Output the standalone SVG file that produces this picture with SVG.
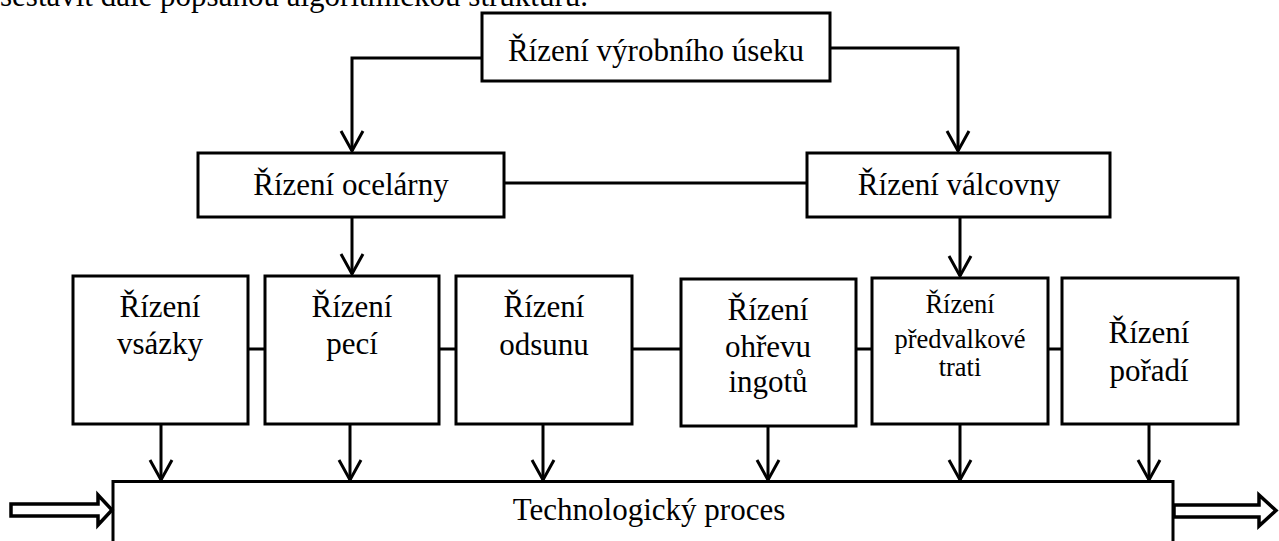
<svg xmlns="http://www.w3.org/2000/svg" width="1279" height="541" viewBox="0 0 1279 541">
  <style>
    .box { fill: #ffffff; stroke: #000000; stroke-width: 3; }
    .line { fill: none; stroke: #000000; stroke-width: 3; }
    .arr { fill: none; stroke: #000000; stroke-width: 3; marker-end: url(#ah); }
    .f { font-family: "Liberation Serif", "Times New Roman", Times, Tinos, "Noto Serif", "DejaVu Serif", FreeSerif, serif; fill: #000000; }
    .t { font-size: 31px; text-anchor: middle; }
    .ts { font-size: 26.5px; text-anchor: middle; }
    .top { font-size: 31px; }
    .dbl { fill: #ffffff; stroke: #000000; stroke-width: 3.5; stroke-linejoin: miter; }
  </style>
  <defs>
    <marker id="ah" markerUnits="userSpaceOnUse" viewBox="-24 -14 26 28" refX="0" refY="0" markerWidth="26" markerHeight="28" orient="auto" overflow="visible">
      <path d="M-20,-11 L0,0 L-20,11" fill="none" stroke="#000000" stroke-width="3"/>
    </marker>
  </defs>
  <rect width="1279" height="541" fill="#ffffff"/>

  <text class="f top" x="0" y="6">sestavit dále popsanou algoritmickou strukturu.</text>

  <g id="connectors">
    <path class="arr" d="M482,58 H352 V151"/>
    <path class="arr" d="M830,48 H958 V151"/>
    <path class="line" d="M504,183 H807"/>
    <path class="arr" d="M352,217 V274"/>
    <path class="arr" d="M960,217 V276"/>
    <path class="line" d="M248,349 H265 M439,349 H456 M632,349 H681 M856,349 H872 M1048,349 H1062"/>
    <path class="arr" d="M161,424 V480"/>
    <path class="arr" d="M350,424 V480"/>
    <path class="arr" d="M543,424 V480"/>
    <path class="arr" d="M768,426 V480"/>
    <path class="arr" d="M960,424 V480"/>
    <path class="arr" d="M1149,424 V480"/>
    <polygon class="dbl" points="11,504 98,504 98,495 112,510 98,525 98,516 11,516"/>
    <polygon class="dbl" points="1174,505 1259,505 1259,495 1276,510.5 1259,526 1259,517 1174,517"/>
  </g>

  <g id="n-vyrobni-usek">
    <rect class="box" x="482" y="13" width="348" height="68"/>
    <text class="f t" x="656" y="61">Řízení výrobního úseku</text>
  </g>
  <g id="n-ocelarna">
    <rect class="box" x="198" y="153" width="306" height="64"/>
    <text class="f t" x="351" y="195">Řízení ocelárny</text>
  </g>
  <g id="n-valcovna">
    <rect class="box" x="807" y="153" width="303" height="64"/>
    <text class="f t" x="959" y="195">Řízení válcovny</text>
  </g>
  <g id="n-vsazka">
    <rect class="box" x="73" y="276" width="175" height="148"/>
    <text class="f t" x="160" y="317">Řízení</text>
    <text class="f t" x="160" y="354">vsázky</text>
  </g>
  <g id="n-peci">
    <rect class="box" x="265" y="276" width="174" height="148"/>
    <text class="f t" x="352" y="317">Řízení</text>
    <text class="f t" x="352" y="354">pecí</text>
  </g>
  <g id="n-odsun">
    <rect class="box" x="456" y="276" width="176" height="148"/>
    <text class="f t" x="544" y="317">Řízení</text>
    <text class="f t" x="544" y="355">odsunu</text>
  </g>
  <g id="n-ohrev">
    <rect class="box" x="681" y="279" width="175" height="147"/>
    <text class="f t" x="768" y="320">Řízení</text>
    <text class="f t" x="768" y="357">ohřevu</text>
    <text class="f t" x="768" y="392">ingotů</text>
  </g>
  <g id="n-predvalkova">
    <rect class="box" x="872" y="278" width="176" height="146"/>
    <text class="f ts" x="960" y="313">Řízení</text>
    <text class="f ts" x="960" y="348">předvalkové</text>
    <text class="f ts" x="960" y="376">trati</text>
  </g>
  <g id="n-poradi">
    <rect class="box" x="1062" y="278" width="176" height="146"/>
    <text class="f t" x="1149" y="343">Řízení</text>
    <text class="f t" x="1149" y="381">pořadí</text>
  </g>
  <g id="n-proces">
    <path class="line" d="M113,541 V481.5 H1173 V541"/>
    <text class="f t" x="649" y="520">Technologický proces</text>
  </g>
</svg>
